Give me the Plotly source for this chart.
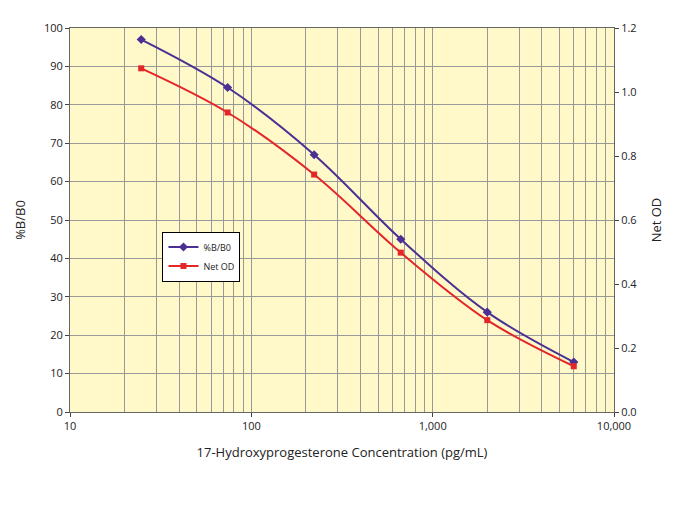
import plotly.graph_objects as go

conc = [24.7, 74, 222, 667, 2000, 6000]
bb0 = [97, 84.5, 67, 45, 26, 13]
net_od = [1.074, 0.936, 0.742, 0.498, 0.287, 0.143]
minor_vals = [m * 10 ** d for d in range(1, 4) for m in range(2, 10)]

fig = go.Figure()
fig.add_trace(go.Scatter(x=conc, y=bb0, name="%B/B0", mode="lines+markers",
    line=dict(color="#4a2f94", width=2, shape="spline"),
    marker=dict(symbol="diamond", size=7, color="#4a2f94")))
fig.add_trace(go.Scatter(x=conc, y=net_od, name="Net OD", mode="lines+markers", yaxis="y2",
    line=dict(color="#e3262a", width=2, shape="spline"),
    marker=dict(symbol="square", size=6, color="#e3262a")))

fig.update_layout(
    width=684, height=505, paper_bgcolor="white", plot_bgcolor="#fff8c8",
    margin=dict(l=54, r=78, t=13, b=101),
    font=dict(family="Open Sans, Arial", size=11, color="#222"),
    showlegend=True,
    legend=dict(x=0.17, y=0.47, xanchor="left", yanchor="top", bgcolor="white",
                bordercolor="black", borderwidth=1, font=dict(size=9),
                itemwidth=30, tracegroupgap=0),
    xaxis=dict(type="log", range=[1, 4], title=dict(text="17-Hydroxyprogesterone Concentration (pg/mL)", font=dict(size=13)),
               tickvals=[10, 100, 1000, 10000], ticktext=["10", "100", "1,000", "10,000"],
               showgrid=True, gridcolor="#999", gridwidth=1,
               minor=dict(showgrid=True, gridcolor="#999", ticks="", tickvals=minor_vals),
               showline=True, linecolor="#666", mirror=True, ticks="outside", ticklen=4, zeroline=False),
    yaxis=dict(range=[0, 100], dtick=10, title=dict(text="%B/B0", font=dict(size=13)),
               showgrid=True, gridcolor="#999", showline=True, linecolor="#666",
               ticks="outside", ticklen=4, zeroline=False),
    yaxis2=dict(range=[0, 1.2], dtick=0.2, tickformat=".1f", overlaying="y", side="right",
                title=dict(text="Net OD", font=dict(size=13)), showgrid=False,
                showline=True, linecolor="#666", ticks="outside", ticklen=4, zeroline=False),
)
fig.write_html("out.html")
